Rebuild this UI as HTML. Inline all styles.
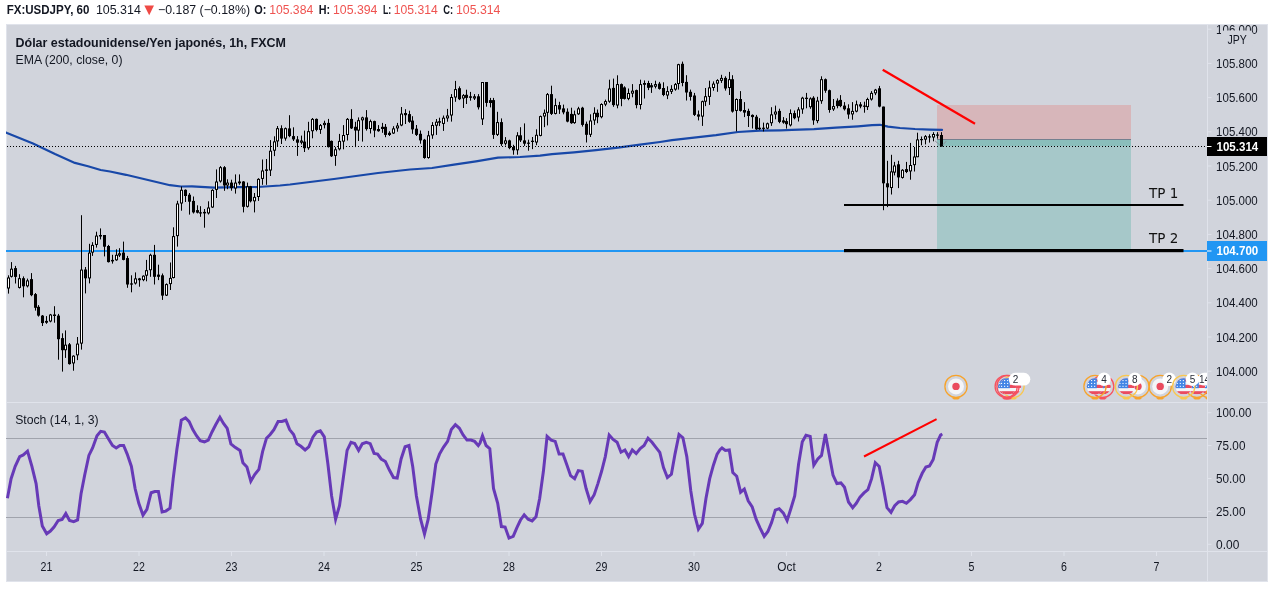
<!DOCTYPE html>
<html lang="es"><head><meta charset="utf-8"><title>FX:USDJPY</title>
<style>html,body{margin:0;padding:0;background:#fff;width:1274px;height:590px;overflow:hidden}text{white-space:pre}</style>
</head><body>
<svg width="1274" height="590" viewBox="0 0 1274 590" style="position:absolute;left:0;top:0;display:block">
<defs><clipPath id="cm"><rect x="6" y="24" width="1201" height="378"/></clipPath><clipPath id="cs"><rect x="6" y="403" width="1201" height="148"/></clipPath><clipPath id="cax"><rect x="1207" y="24" width="61" height="558"/></clipPath></defs>
<rect x="0" y="0" width="1274" height="590" fill="#ffffff"/>
<rect x="6" y="24" width="1262" height="558" fill="#e0e3eb"/>
<rect x="7" y="25" width="1260" height="556" fill="#d1d4dc"/>
<g clip-path="url(#cm)">
<rect x="937" y="105" width="194" height="34.5" fill="#d7b6ba"/>
<rect x="937" y="139.5" width="194" height="7" fill="#8abebb"/>
<rect x="937" y="146.5" width="194" height="103.5" fill="#a6c8c9"/>
<rect x="937" y="139" width="194" height="1" fill="#74808f"/>
<rect x="6" y="250" width="1201" height="2" fill="#2196f3"/>
<polyline points="6.0,132.6 7.0,133.1 33.0,143.5 55.0,154.0 74.9,162.9 88.0,166.2 100.7,170.0 110.0,171.5 126.0,174.8 148.0,180.0 170.0,185.2 181.0,186.5 192.0,186.4 214.0,187.7 236.0,187.2 258.0,187.0 280.0,185.5 290.0,184.5 334.0,179.0 378.0,173.0 410.0,169.5 432.0,168.0 454.0,164.6 476.0,161.3 498.0,157.6 520.0,157.0 540.0,155.6 552.0,154.2 574.0,152.4 596.0,150.2 618.0,147.6 640.0,144.7 660.0,142.0 672.0,140.2 694.0,137.6 716.0,135.1 738.0,132.0 760.0,130.7 780.0,130.3 792.0,129.9 814.0,129.2 836.0,127.7 858.0,126.3 872.0,125.2 880.0,124.8 888.0,126.6 900.0,128.0 915.0,129.0 930.0,129.6 942.0,129.9" fill="none" stroke="#1848a8" stroke-width="2.2" stroke-linejoin="round" stroke-linecap="round"/>
<line x1="7" y1="146.5" x2="1207" y2="146.5" stroke="#000" stroke-width="1" stroke-dasharray="1 2" shape-rendering="crispEdges"/>
<rect x="8" y="275.3" width="1" height="18.3" fill="#000"/>
<rect x="7" y="277.5" width="3" height="11.0" fill="#000"/>
<rect x="8" y="278.5" width="1" height="9.0" fill="#fff"/>
<rect x="11" y="262.1" width="1" height="15.4" fill="#000"/>
<rect x="10" y="268.7" width="3" height="8.1" fill="#000"/>
<rect x="11" y="269.7" width="1" height="6.1" fill="#fff"/>
<rect x="15" y="265.9" width="1" height="17.6" fill="#000"/>
<rect x="14" y="268.1" width="3" height="8.8" fill="#000"/>
<rect x="19" y="274.2" width="1" height="14.3" fill="#000"/>
<rect x="18" y="278.2" width="3" height="9.7" fill="#000"/>
<rect x="19" y="279.2" width="1" height="7.7" fill="#fff"/>
<rect x="23" y="276.4" width="1" height="20.9" fill="#000"/>
<rect x="22" y="278.2" width="3" height="8.1" fill="#000"/>
<rect x="27" y="278.6" width="1" height="8.8" fill="#000"/>
<rect x="26" y="280.4" width="3" height="5.9" fill="#000"/>
<rect x="27" y="281.4" width="1" height="3.9" fill="#fff"/>
<rect x="31" y="273.1" width="1" height="23.1" fill="#000"/>
<rect x="30" y="279.1" width="3" height="16.1" fill="#000"/>
<rect x="35" y="293.0" width="1" height="17.6" fill="#000"/>
<rect x="34" y="294.1" width="3" height="13.7" fill="#000"/>
<rect x="38" y="305.1" width="1" height="11.5" fill="#000"/>
<rect x="37" y="306.8" width="3" height="8.8" fill="#000"/>
<rect x="42" y="315.0" width="1" height="11.0" fill="#000"/>
<rect x="41" y="315.6" width="3" height="7.5" fill="#000"/>
<rect x="46" y="316.1" width="1" height="7.7" fill="#000"/>
<rect x="45" y="320.9" width="3" height="1.8" fill="#000"/>
<rect x="50" y="313.9" width="1" height="8.4" fill="#000"/>
<rect x="49" y="314.5" width="3" height="7.0" fill="#000"/>
<rect x="50" y="315.5" width="1" height="5.0" fill="#fff"/>
<rect x="54" y="306.2" width="1" height="16.5" fill="#000"/>
<rect x="53" y="314.5" width="3" height="1.5" fill="#000"/>
<rect x="58" y="313.9" width="1" height="45.8" fill="#000"/>
<rect x="57" y="315.6" width="3" height="23.6" fill="#000"/>
<rect x="62" y="333.3" width="1" height="38.3" fill="#000"/>
<rect x="61" y="338.1" width="3" height="12.1" fill="#000"/>
<rect x="65" y="330.4" width="1" height="27.5" fill="#000"/>
<rect x="64" y="344.7" width="3" height="5.5" fill="#000"/>
<rect x="65" y="345.7" width="1" height="3.5" fill="#fff"/>
<rect x="69" y="343.0" width="1" height="21.6" fill="#000"/>
<rect x="68" y="344.3" width="3" height="19.8" fill="#000"/>
<rect x="73" y="355.3" width="1" height="15.4" fill="#000"/>
<rect x="72" y="355.7" width="3" height="7.7" fill="#000"/>
<rect x="73" y="356.7" width="1" height="5.7" fill="#fff"/>
<rect x="77" y="337.0" width="1" height="23.1" fill="#000"/>
<rect x="76" y="343.6" width="3" height="11.7" fill="#000"/>
<rect x="77" y="344.6" width="1" height="9.7" fill="#fff"/>
<rect x="81" y="215.2" width="1" height="134.4" fill="#000"/>
<rect x="80" y="269.6" width="3" height="74.0" fill="#000"/>
<rect x="81" y="270.6" width="1" height="72.0" fill="#fff"/>
<rect x="85" y="267.0" width="1" height="26.4" fill="#000"/>
<rect x="84" y="269.5" width="3" height="8.8" fill="#000"/>
<rect x="89" y="243.8" width="1" height="39.6" fill="#000"/>
<rect x="88" y="252.6" width="3" height="25.8" fill="#000"/>
<rect x="89" y="253.6" width="1" height="23.8" fill="#fff"/>
<rect x="92" y="242.2" width="1" height="13.7" fill="#000"/>
<rect x="91" y="244.9" width="3" height="7.7" fill="#000"/>
<rect x="92" y="245.9" width="1" height="5.7" fill="#fff"/>
<rect x="96" y="231.7" width="1" height="15.9" fill="#000"/>
<rect x="95" y="235.6" width="3" height="9.3" fill="#000"/>
<rect x="96" y="236.6" width="1" height="7.3" fill="#fff"/>
<rect x="100" y="228.4" width="1" height="11.0" fill="#000"/>
<rect x="99" y="235.0" width="3" height="1.5" fill="#000"/>
<rect x="104" y="235.0" width="1" height="21.4" fill="#000"/>
<rect x="103" y="235.0" width="3" height="11.7" fill="#000"/>
<rect x="108" y="244.9" width="1" height="17.6" fill="#000"/>
<rect x="107" y="246.0" width="3" height="16.1" fill="#000"/>
<rect x="112" y="254.8" width="1" height="8.8" fill="#000"/>
<rect x="111" y="259.9" width="3" height="1.5" fill="#000"/>
<rect x="116" y="249.3" width="1" height="11.5" fill="#000"/>
<rect x="115" y="254.8" width="3" height="5.5" fill="#000"/>
<rect x="116" y="255.8" width="1" height="3.5" fill="#fff"/>
<rect x="119" y="248.2" width="1" height="8.8" fill="#000"/>
<rect x="118" y="253.3" width="3" height="2.2" fill="#000"/>
<rect x="119" y="254.3" width="1" height="0.2" fill="#fff"/>
<rect x="123" y="241.6" width="1" height="18.7" fill="#000"/>
<rect x="122" y="252.6" width="3" height="7.3" fill="#000"/>
<rect x="127" y="255.9" width="1" height="31.9" fill="#000"/>
<rect x="126" y="258.1" width="3" height="26.4" fill="#000"/>
<rect x="131" y="275.3" width="1" height="17.0" fill="#000"/>
<rect x="130" y="283.4" width="3" height="1.2" fill="#000"/>
<rect x="135" y="272.4" width="1" height="12.1" fill="#000"/>
<rect x="134" y="278.4" width="3" height="5.1" fill="#000"/>
<rect x="135" y="279.4" width="1" height="3.1" fill="#fff"/>
<rect x="139" y="277.9" width="1" height="8.8" fill="#000"/>
<rect x="138" y="278.4" width="3" height="1.8" fill="#000"/>
<rect x="143" y="275.3" width="1" height="5.9" fill="#000"/>
<rect x="142" y="275.7" width="3" height="4.4" fill="#000"/>
<rect x="143" y="276.7" width="1" height="2.4" fill="#fff"/>
<rect x="146" y="259.9" width="1" height="21.4" fill="#000"/>
<rect x="145" y="270.2" width="3" height="5.5" fill="#000"/>
<rect x="146" y="271.2" width="1" height="3.5" fill="#fff"/>
<rect x="150" y="253.7" width="1" height="23.1" fill="#000"/>
<rect x="149" y="254.8" width="3" height="15.4" fill="#000"/>
<rect x="150" y="255.8" width="1" height="13.4" fill="#fff"/>
<rect x="154" y="244.9" width="1" height="39.6" fill="#000"/>
<rect x="153" y="254.8" width="3" height="22.0" fill="#000"/>
<rect x="158" y="264.7" width="1" height="15.4" fill="#000"/>
<rect x="157" y="274.6" width="3" height="2.2" fill="#000"/>
<rect x="162" y="273.5" width="1" height="26.4" fill="#000"/>
<rect x="161" y="275.3" width="3" height="20.3" fill="#000"/>
<rect x="166" y="283.4" width="1" height="12.6" fill="#000"/>
<rect x="165" y="284.1" width="3" height="11.5" fill="#000"/>
<rect x="166" y="285.1" width="1" height="9.5" fill="#fff"/>
<rect x="170" y="262.5" width="1" height="27.5" fill="#000"/>
<rect x="169" y="277.9" width="3" height="6.2" fill="#000"/>
<rect x="170" y="278.9" width="1" height="4.2" fill="#fff"/>
<rect x="173" y="227.3" width="1" height="51.1" fill="#000"/>
<rect x="172" y="236.1" width="3" height="41.9" fill="#000"/>
<rect x="173" y="237.1" width="1" height="39.9" fill="#fff"/>
<rect x="177" y="200.8" width="1" height="45.8" fill="#000"/>
<rect x="176" y="203.5" width="3" height="32.6" fill="#000"/>
<rect x="177" y="204.5" width="1" height="30.6" fill="#fff"/>
<rect x="181" y="186.5" width="1" height="24.2" fill="#000"/>
<rect x="180" y="189.8" width="3" height="13.7" fill="#000"/>
<rect x="181" y="190.8" width="1" height="11.7" fill="#fff"/>
<rect x="185" y="189.4" width="1" height="12.6" fill="#000"/>
<rect x="184" y="189.8" width="3" height="6.2" fill="#000"/>
<rect x="189" y="193.0" width="1" height="21.6" fill="#000"/>
<rect x="188" y="194.7" width="3" height="7.0" fill="#000"/>
<rect x="193" y="196.5" width="1" height="17.0" fill="#000"/>
<rect x="192" y="200.9" width="3" height="11.5" fill="#000"/>
<rect x="197" y="205.3" width="1" height="8.1" fill="#000"/>
<rect x="196" y="210.1" width="3" height="2.6" fill="#000"/>
<rect x="200" y="206.2" width="1" height="10.6" fill="#000"/>
<rect x="199" y="212.3" width="3" height="1.2" fill="#000"/>
<rect x="204" y="209.0" width="1" height="18.7" fill="#000"/>
<rect x="203" y="211.9" width="3" height="1.5" fill="#000"/>
<rect x="208" y="201.3" width="1" height="13.2" fill="#000"/>
<rect x="207" y="207.5" width="3" height="5.9" fill="#000"/>
<rect x="208" y="208.5" width="1" height="3.9" fill="#fff"/>
<rect x="212" y="189.2" width="1" height="18.7" fill="#000"/>
<rect x="211" y="189.9" width="3" height="17.6" fill="#000"/>
<rect x="212" y="190.9" width="1" height="15.6" fill="#fff"/>
<rect x="216" y="169.4" width="1" height="28.6" fill="#000"/>
<rect x="215" y="181.5" width="3" height="8.4" fill="#000"/>
<rect x="216" y="182.5" width="1" height="6.4" fill="#fff"/>
<rect x="220" y="166.1" width="1" height="16.5" fill="#000"/>
<rect x="219" y="167.2" width="3" height="14.3" fill="#000"/>
<rect x="220" y="168.2" width="1" height="12.3" fill="#fff"/>
<rect x="224" y="166.1" width="1" height="24.7" fill="#000"/>
<rect x="223" y="167.2" width="3" height="18.3" fill="#000"/>
<rect x="227" y="179.3" width="1" height="9.9" fill="#000"/>
<rect x="226" y="182.6" width="3" height="2.9" fill="#000"/>
<rect x="227" y="183.6" width="1" height="0.9" fill="#fff"/>
<rect x="231" y="179.7" width="1" height="11.0" fill="#000"/>
<rect x="230" y="182.6" width="3" height="5.5" fill="#000"/>
<rect x="235" y="174.4" width="1" height="19.2" fill="#000"/>
<rect x="234" y="182.6" width="3" height="5.9" fill="#000"/>
<rect x="235" y="183.6" width="1" height="3.9" fill="#fff"/>
<rect x="239" y="174.4" width="1" height="10.4" fill="#000"/>
<rect x="238" y="181.5" width="3" height="1.8" fill="#000"/>
<rect x="243" y="181.1" width="1" height="31.3" fill="#000"/>
<rect x="242" y="181.5" width="3" height="25.3" fill="#000"/>
<rect x="247" y="182.6" width="1" height="24.9" fill="#000"/>
<rect x="246" y="186.3" width="3" height="20.5" fill="#000"/>
<rect x="247" y="187.3" width="1" height="18.5" fill="#fff"/>
<rect x="250" y="185.9" width="1" height="16.5" fill="#000"/>
<rect x="249" y="186.3" width="3" height="15.0" fill="#000"/>
<rect x="254" y="193.0" width="1" height="19.4" fill="#000"/>
<rect x="253" y="196.9" width="3" height="4.4" fill="#000"/>
<rect x="254" y="197.9" width="1" height="2.4" fill="#fff"/>
<rect x="258" y="178.2" width="1" height="22.7" fill="#000"/>
<rect x="257" y="178.9" width="3" height="18.1" fill="#000"/>
<rect x="258" y="179.9" width="1" height="16.1" fill="#fff"/>
<rect x="262" y="159.5" width="1" height="25.3" fill="#000"/>
<rect x="261" y="170.5" width="3" height="8.4" fill="#000"/>
<rect x="262" y="171.5" width="1" height="6.4" fill="#fff"/>
<rect x="266" y="159.0" width="1" height="25.8" fill="#000"/>
<rect x="265" y="169.4" width="3" height="1.5" fill="#000"/>
<rect x="270" y="140.1" width="1" height="35.9" fill="#000"/>
<rect x="269" y="150.7" width="3" height="19.8" fill="#000"/>
<rect x="270" y="151.7" width="1" height="17.8" fill="#fff"/>
<rect x="274" y="136.3" width="1" height="19.8" fill="#000"/>
<rect x="273" y="141.4" width="3" height="9.3" fill="#000"/>
<rect x="274" y="142.4" width="1" height="7.3" fill="#fff"/>
<rect x="277" y="126.0" width="1" height="20.3" fill="#000"/>
<rect x="276" y="128.2" width="3" height="13.2" fill="#000"/>
<rect x="277" y="129.2" width="1" height="11.2" fill="#fff"/>
<rect x="281" y="125.3" width="1" height="18.7" fill="#000"/>
<rect x="280" y="128.2" width="3" height="10.4" fill="#000"/>
<rect x="285" y="127.5" width="1" height="13.2" fill="#000"/>
<rect x="284" y="128.2" width="3" height="10.4" fill="#000"/>
<rect x="285" y="129.2" width="1" height="8.4" fill="#fff"/>
<rect x="289" y="115.2" width="1" height="22.0" fill="#000"/>
<rect x="288" y="128.4" width="3" height="7.7" fill="#000"/>
<rect x="293" y="127.3" width="1" height="13.7" fill="#000"/>
<rect x="292" y="136.1" width="3" height="3.3" fill="#000"/>
<rect x="297" y="136.1" width="1" height="19.8" fill="#000"/>
<rect x="296" y="139.4" width="3" height="3.3" fill="#000"/>
<rect x="301" y="135.6" width="1" height="8.8" fill="#000"/>
<rect x="300" y="140.5" width="3" height="2.2" fill="#000"/>
<rect x="301" y="141.5" width="1" height="0.2" fill="#fff"/>
<rect x="304" y="130.6" width="1" height="21.4" fill="#000"/>
<rect x="303" y="141.6" width="3" height="6.6" fill="#000"/>
<rect x="308" y="121.8" width="1" height="28.0" fill="#000"/>
<rect x="307" y="131.2" width="3" height="17.0" fill="#000"/>
<rect x="308" y="132.2" width="1" height="15.0" fill="#fff"/>
<rect x="312" y="118.0" width="1" height="20.3" fill="#000"/>
<rect x="311" y="118.9" width="3" height="12.3" fill="#000"/>
<rect x="312" y="119.9" width="1" height="10.3" fill="#fff"/>
<rect x="316" y="118.5" width="1" height="12.8" fill="#000"/>
<rect x="315" y="118.9" width="3" height="11.0" fill="#000"/>
<rect x="320" y="124.0" width="1" height="9.9" fill="#000"/>
<rect x="319" y="125.1" width="3" height="4.8" fill="#000"/>
<rect x="320" y="126.1" width="1" height="2.8" fill="#fff"/>
<rect x="324" y="120.7" width="1" height="7.7" fill="#000"/>
<rect x="323" y="122.9" width="3" height="2.2" fill="#000"/>
<rect x="324" y="123.9" width="1" height="0.2" fill="#fff"/>
<rect x="328" y="118.9" width="1" height="28.6" fill="#000"/>
<rect x="327" y="122.9" width="3" height="24.2" fill="#000"/>
<rect x="331" y="140.5" width="1" height="16.5" fill="#000"/>
<rect x="330" y="140.9" width="3" height="15.4" fill="#000"/>
<rect x="335" y="147.1" width="1" height="18.7" fill="#000"/>
<rect x="334" y="149.3" width="3" height="6.6" fill="#000"/>
<rect x="335" y="150.3" width="1" height="4.6" fill="#fff"/>
<rect x="339" y="133.9" width="1" height="16.5" fill="#000"/>
<rect x="338" y="140.9" width="3" height="8.4" fill="#000"/>
<rect x="339" y="141.9" width="1" height="6.4" fill="#fff"/>
<rect x="343" y="125.1" width="1" height="24.2" fill="#000"/>
<rect x="342" y="135.0" width="3" height="6.6" fill="#000"/>
<rect x="343" y="136.0" width="1" height="4.6" fill="#fff"/>
<rect x="347" y="118.0" width="1" height="22.5" fill="#000"/>
<rect x="346" y="118.9" width="3" height="16.1" fill="#000"/>
<rect x="347" y="119.9" width="1" height="14.1" fill="#fff"/>
<rect x="351" y="109.2" width="1" height="19.8" fill="#000"/>
<rect x="350" y="118.9" width="3" height="9.5" fill="#000"/>
<rect x="355" y="121.8" width="1" height="25.3" fill="#000"/>
<rect x="354" y="126.8" width="3" height="3.7" fill="#000"/>
<rect x="358" y="117.4" width="1" height="23.6" fill="#000"/>
<rect x="357" y="120.2" width="3" height="10.4" fill="#000"/>
<rect x="358" y="121.2" width="1" height="8.4" fill="#fff"/>
<rect x="362" y="116.7" width="1" height="24.9" fill="#000"/>
<rect x="361" y="117.4" width="3" height="2.9" fill="#000"/>
<rect x="362" y="118.4" width="1" height="0.9" fill="#fff"/>
<rect x="366" y="110.1" width="1" height="20.5" fill="#000"/>
<rect x="365" y="117.4" width="3" height="11.7" fill="#000"/>
<rect x="370" y="119.6" width="1" height="13.9" fill="#000"/>
<rect x="369" y="121.1" width="3" height="7.9" fill="#000"/>
<rect x="370" y="122.1" width="1" height="5.9" fill="#fff"/>
<rect x="374" y="120.7" width="1" height="16.5" fill="#000"/>
<rect x="373" y="121.1" width="3" height="9.5" fill="#000"/>
<rect x="378" y="125.1" width="1" height="6.6" fill="#000"/>
<rect x="377" y="129.0" width="3" height="2.2" fill="#000"/>
<rect x="382" y="122.9" width="1" height="9.9" fill="#000"/>
<rect x="381" y="126.8" width="3" height="2.2" fill="#000"/>
<rect x="385" y="124.0" width="1" height="13.2" fill="#000"/>
<rect x="384" y="126.8" width="3" height="8.1" fill="#000"/>
<rect x="389" y="131.2" width="1" height="4.8" fill="#000"/>
<rect x="388" y="132.8" width="3" height="2.2" fill="#000"/>
<rect x="393" y="126.2" width="1" height="7.7" fill="#000"/>
<rect x="392" y="128.4" width="3" height="5.1" fill="#000"/>
<rect x="393" y="129.4" width="1" height="3.1" fill="#fff"/>
<rect x="397" y="122.9" width="1" height="8.8" fill="#000"/>
<rect x="396" y="125.5" width="3" height="2.9" fill="#000"/>
<rect x="397" y="126.5" width="1" height="0.9" fill="#fff"/>
<rect x="401" y="107.0" width="1" height="19.2" fill="#000"/>
<rect x="400" y="113.6" width="3" height="11.9" fill="#000"/>
<rect x="401" y="114.6" width="1" height="9.9" fill="#fff"/>
<rect x="405" y="109.2" width="1" height="14.8" fill="#000"/>
<rect x="404" y="113.0" width="3" height="2.2" fill="#000"/>
<rect x="409" y="110.7" width="1" height="12.1" fill="#000"/>
<rect x="408" y="114.1" width="3" height="7.7" fill="#000"/>
<rect x="412" y="116.2" width="1" height="17.6" fill="#000"/>
<rect x="411" y="120.6" width="3" height="8.8" fill="#000"/>
<rect x="416" y="125.0" width="1" height="11.0" fill="#000"/>
<rect x="415" y="128.7" width="3" height="6.2" fill="#000"/>
<rect x="420" y="130.5" width="1" height="13.2" fill="#000"/>
<rect x="419" y="133.8" width="3" height="6.6" fill="#000"/>
<rect x="424" y="138.9" width="1" height="19.8" fill="#000"/>
<rect x="423" y="139.7" width="3" height="18.3" fill="#000"/>
<rect x="428" y="130.9" width="1" height="27.8" fill="#000"/>
<rect x="427" y="135.3" width="3" height="22.7" fill="#000"/>
<rect x="428" y="136.3" width="1" height="20.7" fill="#fff"/>
<rect x="432" y="122.1" width="1" height="16.7" fill="#000"/>
<rect x="431" y="125.0" width="3" height="10.4" fill="#000"/>
<rect x="432" y="126.0" width="1" height="8.4" fill="#fff"/>
<rect x="436" y="119.0" width="1" height="15.9" fill="#000"/>
<rect x="435" y="121.7" width="3" height="4.0" fill="#000"/>
<rect x="436" y="122.7" width="1" height="2.0" fill="#fff"/>
<rect x="439" y="117.7" width="1" height="8.4" fill="#000"/>
<rect x="438" y="121.2" width="3" height="1.5" fill="#000"/>
<rect x="443" y="115.5" width="1" height="15.4" fill="#000"/>
<rect x="442" y="117.7" width="3" height="6.2" fill="#000"/>
<rect x="443" y="118.7" width="1" height="4.2" fill="#fff"/>
<rect x="447" y="108.9" width="1" height="12.8" fill="#000"/>
<rect x="446" y="115.5" width="3" height="2.9" fill="#000"/>
<rect x="447" y="116.5" width="1" height="0.9" fill="#fff"/>
<rect x="451" y="94.1" width="1" height="27.5" fill="#000"/>
<rect x="450" y="97.0" width="3" height="18.5" fill="#000"/>
<rect x="451" y="98.0" width="1" height="16.5" fill="#fff"/>
<rect x="455" y="80.9" width="1" height="20.9" fill="#000"/>
<rect x="454" y="89.1" width="3" height="8.4" fill="#000"/>
<rect x="455" y="90.1" width="1" height="6.4" fill="#fff"/>
<rect x="459" y="86.4" width="1" height="13.7" fill="#000"/>
<rect x="458" y="88.2" width="3" height="11.0" fill="#000"/>
<rect x="463" y="94.1" width="1" height="13.9" fill="#000"/>
<rect x="462" y="95.2" width="3" height="3.3" fill="#000"/>
<rect x="463" y="96.2" width="1" height="1.3" fill="#fff"/>
<rect x="466" y="89.7" width="1" height="14.3" fill="#000"/>
<rect x="465" y="94.8" width="3" height="3.1" fill="#000"/>
<rect x="470" y="91.9" width="1" height="8.8" fill="#000"/>
<rect x="469" y="96.3" width="3" height="1.5" fill="#000"/>
<rect x="474" y="94.1" width="1" height="5.9" fill="#000"/>
<rect x="473" y="96.3" width="3" height="2.2" fill="#000"/>
<rect x="474" y="97.3" width="1" height="0.2" fill="#fff"/>
<rect x="478" y="94.1" width="1" height="15.4" fill="#000"/>
<rect x="477" y="96.3" width="3" height="11.0" fill="#000"/>
<rect x="482" y="82.0" width="1" height="43.0" fill="#000"/>
<rect x="481" y="82.0" width="3" height="37.4" fill="#000"/>
<rect x="482" y="83.0" width="1" height="35.4" fill="#fff"/>
<rect x="486" y="82.0" width="1" height="24.7" fill="#000"/>
<rect x="485" y="82.0" width="3" height="20.9" fill="#000"/>
<rect x="490" y="97.9" width="1" height="9.5" fill="#000"/>
<rect x="489" y="100.1" width="3" height="2.9" fill="#000"/>
<rect x="493" y="97.9" width="1" height="41.0" fill="#000"/>
<rect x="492" y="100.1" width="3" height="34.8" fill="#000"/>
<rect x="497" y="111.8" width="1" height="24.2" fill="#000"/>
<rect x="496" y="122.1" width="3" height="12.8" fill="#000"/>
<rect x="497" y="123.1" width="1" height="10.8" fill="#fff"/>
<rect x="501" y="118.4" width="1" height="27.5" fill="#000"/>
<rect x="500" y="122.1" width="3" height="22.0" fill="#000"/>
<rect x="505" y="137.1" width="1" height="8.4" fill="#000"/>
<rect x="504" y="140.4" width="3" height="3.3" fill="#000"/>
<rect x="505" y="141.4" width="1" height="1.3" fill="#fff"/>
<rect x="509" y="139.7" width="1" height="9.5" fill="#000"/>
<rect x="508" y="140.4" width="3" height="7.7" fill="#000"/>
<rect x="513" y="144.8" width="1" height="9.9" fill="#000"/>
<rect x="512" y="147.0" width="3" height="3.3" fill="#000"/>
<rect x="517" y="132.2" width="1" height="22.5" fill="#000"/>
<rect x="516" y="135.3" width="3" height="15.0" fill="#000"/>
<rect x="517" y="136.3" width="1" height="13.0" fill="#fff"/>
<rect x="520" y="127.2" width="1" height="14.8" fill="#000"/>
<rect x="519" y="135.3" width="3" height="5.1" fill="#000"/>
<rect x="524" y="123.4" width="1" height="22.5" fill="#000"/>
<rect x="523" y="140.4" width="3" height="3.3" fill="#000"/>
<rect x="528" y="139.7" width="1" height="11.0" fill="#000"/>
<rect x="527" y="142.6" width="3" height="1.2" fill="#000"/>
<rect x="532" y="137.0" width="1" height="12.1" fill="#000"/>
<rect x="531" y="140.7" width="3" height="1.3" fill="#000"/>
<rect x="536" y="129.3" width="1" height="15.9" fill="#000"/>
<rect x="535" y="134.8" width="3" height="7.7" fill="#000"/>
<rect x="536" y="135.8" width="1" height="5.7" fill="#fff"/>
<rect x="540" y="115.6" width="1" height="20.7" fill="#000"/>
<rect x="539" y="116.1" width="3" height="19.8" fill="#000"/>
<rect x="540" y="117.1" width="1" height="17.8" fill="#fff"/>
<rect x="544" y="109.5" width="1" height="17.6" fill="#000"/>
<rect x="543" y="112.8" width="3" height="3.7" fill="#000"/>
<rect x="544" y="113.8" width="1" height="1.7" fill="#fff"/>
<rect x="547" y="93.0" width="1" height="32.4" fill="#000"/>
<rect x="546" y="94.1" width="3" height="18.7" fill="#000"/>
<rect x="547" y="95.1" width="1" height="16.7" fill="#fff"/>
<rect x="551" y="85.7" width="1" height="29.3" fill="#000"/>
<rect x="550" y="94.1" width="3" height="19.8" fill="#000"/>
<rect x="555" y="98.5" width="1" height="15.9" fill="#000"/>
<rect x="554" y="105.1" width="3" height="8.8" fill="#000"/>
<rect x="555" y="106.1" width="1" height="6.8" fill="#fff"/>
<rect x="559" y="101.8" width="1" height="12.1" fill="#000"/>
<rect x="558" y="105.1" width="3" height="4.4" fill="#000"/>
<rect x="563" y="104.6" width="1" height="9.7" fill="#000"/>
<rect x="562" y="108.4" width="3" height="4.0" fill="#000"/>
<rect x="567" y="108.4" width="1" height="13.9" fill="#000"/>
<rect x="566" y="111.7" width="3" height="9.9" fill="#000"/>
<rect x="571" y="107.7" width="1" height="16.1" fill="#000"/>
<rect x="570" y="113.9" width="3" height="9.3" fill="#000"/>
<rect x="574" y="110.6" width="1" height="13.2" fill="#000"/>
<rect x="573" y="114.3" width="3" height="8.8" fill="#000"/>
<rect x="574" y="115.3" width="1" height="6.8" fill="#fff"/>
<rect x="578" y="106.8" width="1" height="8.1" fill="#000"/>
<rect x="577" y="108.4" width="3" height="5.9" fill="#000"/>
<rect x="578" y="109.4" width="1" height="3.9" fill="#fff"/>
<rect x="582" y="106.8" width="1" height="19.8" fill="#000"/>
<rect x="581" y="107.7" width="3" height="17.2" fill="#000"/>
<rect x="586" y="121.6" width="1" height="20.9" fill="#000"/>
<rect x="585" y="123.8" width="3" height="11.0" fill="#000"/>
<rect x="590" y="114.3" width="1" height="22.7" fill="#000"/>
<rect x="589" y="120.5" width="3" height="14.3" fill="#000"/>
<rect x="590" y="121.5" width="1" height="12.3" fill="#fff"/>
<rect x="594" y="107.3" width="1" height="17.6" fill="#000"/>
<rect x="593" y="112.8" width="3" height="7.7" fill="#000"/>
<rect x="594" y="113.8" width="1" height="5.7" fill="#fff"/>
<rect x="597" y="109.5" width="1" height="13.7" fill="#000"/>
<rect x="596" y="112.8" width="3" height="4.4" fill="#000"/>
<rect x="601" y="103.3" width="1" height="15.0" fill="#000"/>
<rect x="600" y="104.0" width="3" height="13.2" fill="#000"/>
<rect x="601" y="105.0" width="1" height="11.2" fill="#fff"/>
<rect x="605" y="99.6" width="1" height="6.6" fill="#000"/>
<rect x="604" y="101.1" width="3" height="3.5" fill="#000"/>
<rect x="605" y="102.1" width="1" height="1.5" fill="#fff"/>
<rect x="609" y="79.7" width="1" height="23.1" fill="#000"/>
<rect x="608" y="88.5" width="3" height="13.2" fill="#000"/>
<rect x="609" y="89.5" width="1" height="11.2" fill="#fff"/>
<rect x="613" y="78.6" width="1" height="28.2" fill="#000"/>
<rect x="612" y="87.9" width="3" height="17.2" fill="#000"/>
<rect x="617" y="75.3" width="1" height="33.0" fill="#000"/>
<rect x="616" y="84.1" width="3" height="21.4" fill="#000"/>
<rect x="617" y="85.1" width="1" height="19.4" fill="#fff"/>
<rect x="621" y="83.5" width="1" height="22.7" fill="#000"/>
<rect x="620" y="84.1" width="3" height="14.8" fill="#000"/>
<rect x="624" y="86.3" width="1" height="13.2" fill="#000"/>
<rect x="623" y="87.4" width="3" height="11.5" fill="#000"/>
<rect x="628" y="88.5" width="1" height="11.7" fill="#000"/>
<rect x="627" y="93.0" width="3" height="5.9" fill="#000"/>
<rect x="628" y="94.0" width="1" height="3.9" fill="#fff"/>
<rect x="632" y="84.1" width="1" height="13.2" fill="#000"/>
<rect x="631" y="90.7" width="3" height="2.9" fill="#000"/>
<rect x="632" y="91.7" width="1" height="0.9" fill="#fff"/>
<rect x="636" y="89.6" width="1" height="18.7" fill="#000"/>
<rect x="635" y="90.1" width="3" height="15.0" fill="#000"/>
<rect x="640" y="79.7" width="1" height="29.7" fill="#000"/>
<rect x="639" y="84.1" width="3" height="20.9" fill="#000"/>
<rect x="640" y="85.1" width="1" height="18.9" fill="#fff"/>
<rect x="644" y="80.4" width="1" height="18.1" fill="#000"/>
<rect x="643" y="83.0" width="3" height="1.8" fill="#000"/>
<rect x="648" y="80.8" width="1" height="9.3" fill="#000"/>
<rect x="647" y="83.0" width="3" height="4.8" fill="#000"/>
<rect x="651" y="83.0" width="1" height="9.9" fill="#000"/>
<rect x="650" y="85.2" width="3" height="2.2" fill="#000"/>
<rect x="655" y="80.7" width="1" height="7.7" fill="#000"/>
<rect x="654" y="84.1" width="3" height="2.6" fill="#000"/>
<rect x="655" y="85.1" width="1" height="0.6" fill="#fff"/>
<rect x="659" y="81.9" width="1" height="7.7" fill="#000"/>
<rect x="658" y="83.6" width="3" height="5.3" fill="#000"/>
<rect x="663" y="82.3" width="1" height="13.9" fill="#000"/>
<rect x="662" y="88.0" width="3" height="7.0" fill="#000"/>
<rect x="667" y="86.3" width="1" height="12.8" fill="#000"/>
<rect x="666" y="91.1" width="3" height="4.4" fill="#000"/>
<rect x="667" y="92.1" width="1" height="2.4" fill="#fff"/>
<rect x="671" y="85.2" width="1" height="8.8" fill="#000"/>
<rect x="670" y="88.9" width="3" height="2.9" fill="#000"/>
<rect x="671" y="89.9" width="1" height="0.9" fill="#fff"/>
<rect x="675" y="83.0" width="1" height="7.7" fill="#000"/>
<rect x="674" y="84.1" width="3" height="5.5" fill="#000"/>
<rect x="675" y="85.1" width="1" height="3.5" fill="#fff"/>
<rect x="678" y="63.8" width="1" height="25.8" fill="#000"/>
<rect x="677" y="64.2" width="3" height="19.8" fill="#000"/>
<rect x="678" y="65.2" width="1" height="17.8" fill="#fff"/>
<rect x="682" y="61.6" width="1" height="24.7" fill="#000"/>
<rect x="681" y="63.8" width="3" height="19.2" fill="#000"/>
<rect x="686" y="75.2" width="1" height="25.3" fill="#000"/>
<rect x="685" y="81.9" width="3" height="10.6" fill="#000"/>
<rect x="690" y="89.6" width="1" height="11.0" fill="#000"/>
<rect x="689" y="91.8" width="3" height="5.1" fill="#000"/>
<rect x="694" y="92.9" width="1" height="23.1" fill="#000"/>
<rect x="693" y="95.5" width="3" height="19.4" fill="#000"/>
<rect x="698" y="110.5" width="1" height="9.9" fill="#000"/>
<rect x="697" y="114.4" width="3" height="2.2" fill="#000"/>
<rect x="702" y="100.6" width="1" height="25.3" fill="#000"/>
<rect x="701" y="101.2" width="3" height="15.4" fill="#000"/>
<rect x="702" y="102.2" width="1" height="13.4" fill="#fff"/>
<rect x="705" y="88.0" width="1" height="18.1" fill="#000"/>
<rect x="704" y="96.2" width="3" height="5.5" fill="#000"/>
<rect x="705" y="97.2" width="1" height="3.5" fill="#fff"/>
<rect x="709" y="80.7" width="1" height="24.2" fill="#000"/>
<rect x="708" y="87.4" width="3" height="9.5" fill="#000"/>
<rect x="709" y="88.4" width="1" height="7.5" fill="#fff"/>
<rect x="713" y="81.4" width="1" height="9.3" fill="#000"/>
<rect x="712" y="83.6" width="3" height="4.4" fill="#000"/>
<rect x="713" y="84.6" width="1" height="2.4" fill="#fff"/>
<rect x="717" y="79.2" width="1" height="12.6" fill="#000"/>
<rect x="716" y="80.1" width="3" height="3.5" fill="#000"/>
<rect x="717" y="81.1" width="1" height="1.5" fill="#fff"/>
<rect x="721" y="74.8" width="1" height="8.1" fill="#000"/>
<rect x="720" y="77.9" width="3" height="2.9" fill="#000"/>
<rect x="721" y="78.9" width="1" height="0.9" fill="#fff"/>
<rect x="725" y="76.3" width="1" height="14.3" fill="#000"/>
<rect x="724" y="77.9" width="3" height="10.6" fill="#000"/>
<rect x="729" y="71.9" width="1" height="23.1" fill="#000"/>
<rect x="728" y="79.2" width="3" height="8.8" fill="#000"/>
<rect x="729" y="80.2" width="1" height="6.8" fill="#fff"/>
<rect x="732" y="75.2" width="1" height="37.4" fill="#000"/>
<rect x="731" y="79.2" width="3" height="32.4" fill="#000"/>
<rect x="736" y="98.4" width="1" height="33.0" fill="#000"/>
<rect x="735" y="99.0" width="3" height="11.9" fill="#000"/>
<rect x="736" y="100.0" width="1" height="9.9" fill="#fff"/>
<rect x="740" y="91.1" width="1" height="20.5" fill="#000"/>
<rect x="739" y="99.0" width="3" height="11.9" fill="#000"/>
<rect x="744" y="102.1" width="1" height="15.0" fill="#000"/>
<rect x="743" y="110.0" width="3" height="2.6" fill="#000"/>
<rect x="748" y="108.7" width="1" height="18.3" fill="#000"/>
<rect x="747" y="110.9" width="3" height="5.1" fill="#000"/>
<rect x="752" y="114.4" width="1" height="14.1" fill="#000"/>
<rect x="751" y="114.9" width="3" height="2.2" fill="#000"/>
<rect x="756" y="114.9" width="1" height="15.0" fill="#000"/>
<rect x="755" y="116.7" width="3" height="12.6" fill="#000"/>
<rect x="759" y="118.2" width="1" height="11.7" fill="#000"/>
<rect x="758" y="127.7" width="3" height="1.5" fill="#000"/>
<rect x="763" y="122.6" width="1" height="8.8" fill="#000"/>
<rect x="762" y="127.7" width="3" height="1.2" fill="#000"/>
<rect x="767" y="122.6" width="1" height="6.6" fill="#000"/>
<rect x="766" y="123.3" width="3" height="5.3" fill="#000"/>
<rect x="767" y="124.3" width="1" height="3.3" fill="#fff"/>
<rect x="771" y="107.2" width="1" height="18.7" fill="#000"/>
<rect x="770" y="114.4" width="3" height="8.8" fill="#000"/>
<rect x="771" y="115.4" width="1" height="6.8" fill="#fff"/>
<rect x="775" y="105.6" width="1" height="13.7" fill="#000"/>
<rect x="774" y="111.6" width="3" height="2.9" fill="#000"/>
<rect x="775" y="112.6" width="1" height="0.9" fill="#fff"/>
<rect x="779" y="108.7" width="1" height="14.5" fill="#000"/>
<rect x="778" y="110.9" width="3" height="11.0" fill="#000"/>
<rect x="783" y="117.1" width="1" height="6.6" fill="#000"/>
<rect x="782" y="120.4" width="3" height="2.2" fill="#000"/>
<rect x="786" y="118.2" width="1" height="10.4" fill="#000"/>
<rect x="785" y="121.1" width="3" height="3.1" fill="#000"/>
<rect x="790" y="109.4" width="1" height="17.0" fill="#000"/>
<rect x="789" y="113.1" width="3" height="12.3" fill="#000"/>
<rect x="790" y="114.1" width="1" height="10.3" fill="#fff"/>
<rect x="794" y="110.5" width="1" height="8.8" fill="#000"/>
<rect x="793" y="113.1" width="3" height="5.1" fill="#000"/>
<rect x="798" y="107.2" width="1" height="14.3" fill="#000"/>
<rect x="797" y="109.4" width="3" height="8.1" fill="#000"/>
<rect x="798" y="110.4" width="1" height="6.1" fill="#fff"/>
<rect x="802" y="96.8" width="1" height="17.0" fill="#000"/>
<rect x="801" y="97.7" width="3" height="11.7" fill="#000"/>
<rect x="802" y="98.7" width="1" height="9.7" fill="#fff"/>
<rect x="806" y="92.9" width="1" height="15.4" fill="#000"/>
<rect x="805" y="97.7" width="3" height="1.3" fill="#000"/>
<rect x="810" y="97.3" width="1" height="11.5" fill="#000"/>
<rect x="809" y="98.4" width="3" height="8.8" fill="#000"/>
<rect x="810" y="99.4" width="1" height="6.8" fill="#fff"/>
<rect x="813" y="96.2" width="1" height="28.6" fill="#000"/>
<rect x="812" y="97.7" width="3" height="22.7" fill="#000"/>
<rect x="817" y="96.8" width="1" height="26.4" fill="#000"/>
<rect x="816" y="100.6" width="3" height="20.5" fill="#000"/>
<rect x="817" y="101.6" width="1" height="18.5" fill="#fff"/>
<rect x="821" y="76.3" width="1" height="27.5" fill="#000"/>
<rect x="820" y="79.2" width="3" height="22.0" fill="#000"/>
<rect x="821" y="80.2" width="1" height="20.0" fill="#fff"/>
<rect x="825" y="78.5" width="1" height="14.3" fill="#000"/>
<rect x="824" y="79.2" width="3" height="11.5" fill="#000"/>
<rect x="829" y="89.6" width="1" height="23.1" fill="#000"/>
<rect x="828" y="90.2" width="3" height="19.8" fill="#000"/>
<rect x="833" y="99.0" width="1" height="11.9" fill="#000"/>
<rect x="832" y="106.1" width="3" height="3.3" fill="#000"/>
<rect x="833" y="107.1" width="1" height="1.3" fill="#fff"/>
<rect x="837" y="98.4" width="1" height="9.9" fill="#000"/>
<rect x="836" y="100.6" width="3" height="5.5" fill="#000"/>
<rect x="840" y="95.1" width="1" height="12.1" fill="#000"/>
<rect x="839" y="99.9" width="3" height="6.2" fill="#000"/>
<rect x="844" y="102.1" width="1" height="8.4" fill="#000"/>
<rect x="843" y="105.6" width="3" height="3.7" fill="#000"/>
<rect x="848" y="104.3" width="1" height="14.5" fill="#000"/>
<rect x="847" y="108.3" width="3" height="6.2" fill="#000"/>
<rect x="852" y="102.1" width="1" height="17.6" fill="#000"/>
<rect x="851" y="110.9" width="3" height="3.5" fill="#000"/>
<rect x="852" y="111.9" width="1" height="1.5" fill="#fff"/>
<rect x="856" y="100.6" width="1" height="11.7" fill="#000"/>
<rect x="855" y="104.3" width="3" height="7.3" fill="#000"/>
<rect x="856" y="105.3" width="1" height="5.3" fill="#fff"/>
<rect x="860" y="102.1" width="1" height="6.2" fill="#000"/>
<rect x="859" y="104.3" width="3" height="2.2" fill="#000"/>
<rect x="864" y="101.7" width="1" height="11.0" fill="#000"/>
<rect x="863" y="105.6" width="3" height="1.2" fill="#000"/>
<rect x="867" y="97.7" width="1" height="12.3" fill="#000"/>
<rect x="866" y="99.0" width="3" height="8.1" fill="#000"/>
<rect x="867" y="100.0" width="1" height="6.1" fill="#fff"/>
<rect x="871" y="91.1" width="1" height="9.5" fill="#000"/>
<rect x="870" y="92.9" width="3" height="6.6" fill="#000"/>
<rect x="871" y="93.9" width="1" height="4.6" fill="#fff"/>
<rect x="875" y="88.9" width="1" height="6.2" fill="#000"/>
<rect x="874" y="89.6" width="3" height="3.7" fill="#000"/>
<rect x="875" y="90.6" width="1" height="1.7" fill="#fff"/>
<rect x="879" y="85.9" width="1" height="21.4" fill="#000"/>
<rect x="878" y="88.3" width="3" height="18.3" fill="#000"/>
<rect x="883" y="106.6" width="1" height="103.6" fill="#000"/>
<rect x="882" y="106.6" width="3" height="76.7" fill="#000"/>
<rect x="887" y="160.8" width="1" height="46.3" fill="#000"/>
<rect x="886" y="183.3" width="3" height="4.0" fill="#000"/>
<rect x="891" y="154.8" width="1" height="39.7" fill="#000"/>
<rect x="890" y="171.4" width="3" height="16.6" fill="#000"/>
<rect x="891" y="172.4" width="1" height="14.6" fill="#fff"/>
<rect x="894" y="161.9" width="1" height="13.5" fill="#000"/>
<rect x="893" y="165.5" width="3" height="7.1" fill="#000"/>
<rect x="894" y="166.5" width="1" height="5.1" fill="#fff"/>
<rect x="898" y="160.8" width="1" height="27.3" fill="#000"/>
<rect x="897" y="164.3" width="3" height="13.1" fill="#000"/>
<rect x="902" y="169.1" width="1" height="9.5" fill="#000"/>
<rect x="901" y="169.8" width="3" height="8.1" fill="#000"/>
<rect x="902" y="170.8" width="1" height="6.1" fill="#fff"/>
<rect x="906" y="161.9" width="1" height="11.2" fill="#000"/>
<rect x="905" y="169.1" width="3" height="2.9" fill="#000"/>
<rect x="910" y="142.9" width="1" height="36.8" fill="#000"/>
<rect x="909" y="165.0" width="3" height="6.4" fill="#000"/>
<rect x="910" y="166.0" width="1" height="4.4" fill="#fff"/>
<rect x="914" y="147.0" width="1" height="24.5" fill="#000"/>
<rect x="913" y="156.5" width="3" height="8.6" fill="#000"/>
<rect x="914" y="157.5" width="1" height="6.6" fill="#fff"/>
<rect x="917" y="132.7" width="1" height="24.5" fill="#000"/>
<rect x="916" y="139.4" width="3" height="17.8" fill="#000"/>
<rect x="917" y="140.4" width="1" height="15.8" fill="#fff"/>
<rect x="921" y="136.5" width="1" height="8.8" fill="#000"/>
<rect x="920" y="139.0" width="3" height="1.2" fill="#000"/>
<rect x="925" y="135.1" width="1" height="9.3" fill="#000"/>
<rect x="924" y="136.2" width="3" height="3.4" fill="#000"/>
<rect x="925" y="137.2" width="1" height="1.4" fill="#fff"/>
<rect x="929" y="134.3" width="1" height="8.3" fill="#000"/>
<rect x="928" y="136.3" width="3" height="1.2" fill="#000"/>
<rect x="933" y="132.2" width="1" height="9.1" fill="#000"/>
<rect x="932" y="134.0" width="3" height="3.5" fill="#000"/>
<rect x="933" y="135.0" width="1" height="1.5" fill="#fff"/>
<rect x="937" y="132.2" width="1" height="6.4" fill="#000"/>
<rect x="936" y="134.5" width="3" height="1.2" fill="#000"/>
<rect x="941" y="132.2" width="1" height="14.3" fill="#000"/>
<rect x="940" y="135.0" width="3" height="11.5" fill="#000"/>
<path d="M935.2,141 L940,145.2 M943,144.8 L946.2,141.2" stroke="#8a8f9a" stroke-width="1" fill="none"/>
<rect x="844" y="204" width="339.5" height="2" fill="#000"/>
<rect x="844" y="249" width="339.5" height="3.2" fill="#000"/>
<text x="1149" y="197.8" font-family="'DejaVu Sans', Verdana, sans-serif" font-size="13.5" fill="#111">TP 1</text>
<text x="1149" y="242.8" font-family="'DejaVu Sans', Verdana, sans-serif" font-size="13.5" fill="#111">TP 2</text>
<line x1="882.7" y1="69.8" x2="975" y2="123.7" stroke="#ff0000" stroke-width="2.2" stroke-linecap="butt"/>
<path d="M951.4,397.5 L953.8,399.59999999999997 L958.2,399.59999999999997 L960.6,397.5 Z" fill="#f7a32b"/><circle cx="956" cy="386.4" r="11.1" fill="none" stroke="#f7a32b" stroke-width="1.3"/><circle cx="956" cy="386.4" r="8" fill="#f4f5f8"/><circle cx="956" cy="386.4" r="3.7" fill="#ea4b5f"/>
<path d="M1008.4,397.5 L1010.8,399.59999999999997 L1015.2,399.59999999999997 L1017.6,397.5 Z" fill="#f9c74f"/><circle cx="1013" cy="386.4" r="11.1" fill="none" stroke="#f9c74f" stroke-width="1.3"/><clipPath id="u10130"><circle cx="1013" cy="386.4" r="8.1"/></clipPath><g clip-path="url(#u10130)"><rect x="1004" y="377.4" width="18" height="18" fill="#f4f5f8"/><rect x="1004" y="378.4" width="18" height="3.2" fill="#ea4b5f"/><rect x="1004" y="384.8" width="18" height="3.2" fill="#ea4b5f"/><rect x="1004" y="391.2" width="18" height="3.2" fill="#ea4b5f"/><rect x="1004" y="377.4" width="10.8" height="10.8" fill="#4285e6"/><rect x="1006.0" y="380.0" width="1.1" height="1.1" fill="#fff" transform="translate(0.00,0.00)"/><rect x="1006.0" y="380.0" width="1.1" height="1.1" fill="#fff" transform="translate(0.00,2.90)"/><rect x="1006.0" y="380.0" width="1.1" height="1.1" fill="#fff" transform="translate(0.00,5.80)"/><rect x="1006.0" y="380.0" width="1.1" height="1.1" fill="#fff" transform="translate(3.05,0.00)"/><rect x="1006.0" y="380.0" width="1.1" height="1.1" fill="#fff" transform="translate(3.05,2.90)"/><rect x="1006.0" y="380.0" width="1.1" height="1.1" fill="#fff" transform="translate(3.05,5.80)"/><rect x="1006.0" y="380.0" width="1.1" height="1.1" fill="#fff" transform="translate(6.10,0.00)"/><rect x="1006.0" y="380.0" width="1.1" height="1.1" fill="#fff" transform="translate(6.10,2.90)"/><rect x="1006.0" y="380.0" width="1.1" height="1.1" fill="#fff" transform="translate(6.10,5.80)"/></g>
<path d="M1001.6,397.5 L1004.0,399.59999999999997 L1008.4000000000001,399.59999999999997 L1010.8000000000001,397.5 Z" fill="#f7525f"/><circle cx="1006.2" cy="386.4" r="11.1" fill="none" stroke="#f7525f" stroke-width="1.3"/><clipPath id="u10062"><circle cx="1006.2" cy="386.4" r="8.1"/></clipPath><g clip-path="url(#u10062)"><rect x="997.2" y="377.4" width="18" height="18" fill="#f4f5f8"/><rect x="997.2" y="378.4" width="18" height="3.2" fill="#ea4b5f"/><rect x="997.2" y="384.8" width="18" height="3.2" fill="#ea4b5f"/><rect x="997.2" y="391.2" width="18" height="3.2" fill="#ea4b5f"/><rect x="997.2" y="377.4" width="10.8" height="10.8" fill="#4285e6"/><rect x="999.2" y="380.0" width="1.1" height="1.1" fill="#fff" transform="translate(0.00,0.00)"/><rect x="999.2" y="380.0" width="1.1" height="1.1" fill="#fff" transform="translate(0.00,2.90)"/><rect x="999.2" y="380.0" width="1.1" height="1.1" fill="#fff" transform="translate(0.00,5.80)"/><rect x="999.2" y="380.0" width="1.1" height="1.1" fill="#fff" transform="translate(3.05,0.00)"/><rect x="999.2" y="380.0" width="1.1" height="1.1" fill="#fff" transform="translate(3.05,2.90)"/><rect x="999.2" y="380.0" width="1.1" height="1.1" fill="#fff" transform="translate(3.05,5.80)"/><rect x="999.2" y="380.0" width="1.1" height="1.1" fill="#fff" transform="translate(6.10,0.00)"/><rect x="999.2" y="380.0" width="1.1" height="1.1" fill="#fff" transform="translate(6.10,2.90)"/><rect x="999.2" y="380.0" width="1.1" height="1.1" fill="#fff" transform="translate(6.10,5.80)"/></g>
<path d="M1003.4,397.5 L1005.8,399.59999999999997 L1010.2,399.59999999999997 L1012.6,397.5 Z" fill="#f7525f"/><circle cx="1008" cy="386.4" r="11.1" fill="none" stroke="#f7525f" stroke-width="1.3"/><clipPath id="u10080"><circle cx="1008" cy="386.4" r="8.1"/></clipPath><g clip-path="url(#u10080)"><rect x="999" y="377.4" width="18" height="18" fill="#f4f5f8"/><rect x="999" y="378.4" width="18" height="3.2" fill="#ea4b5f"/><rect x="999" y="384.8" width="18" height="3.2" fill="#ea4b5f"/><rect x="999" y="391.2" width="18" height="3.2" fill="#ea4b5f"/><rect x="999" y="377.4" width="10.8" height="10.8" fill="#4285e6"/><rect x="1001.0" y="380.0" width="1.1" height="1.1" fill="#fff" transform="translate(0.00,0.00)"/><rect x="1001.0" y="380.0" width="1.1" height="1.1" fill="#fff" transform="translate(0.00,2.90)"/><rect x="1001.0" y="380.0" width="1.1" height="1.1" fill="#fff" transform="translate(0.00,5.80)"/><rect x="1001.0" y="380.0" width="1.1" height="1.1" fill="#fff" transform="translate(3.05,0.00)"/><rect x="1001.0" y="380.0" width="1.1" height="1.1" fill="#fff" transform="translate(3.05,2.90)"/><rect x="1001.0" y="380.0" width="1.1" height="1.1" fill="#fff" transform="translate(3.05,5.80)"/><rect x="1001.0" y="380.0" width="1.1" height="1.1" fill="#fff" transform="translate(6.10,0.00)"/><rect x="1001.0" y="380.0" width="1.1" height="1.1" fill="#fff" transform="translate(6.10,2.90)"/><rect x="1001.0" y="380.0" width="1.1" height="1.1" fill="#fff" transform="translate(6.10,5.80)"/></g>
<rect x="1008.8" y="372.8" width="21.5" height="12.8" rx="6.4" fill="#fff"/><text x="1015.5" y="382.9" text-anchor="middle" font-family='Liberation Sans' font-size="10" fill="#2a2e39">2</text>
<path d="M1098.1000000000001,397.5 L1100.5,399.59999999999997 L1104.9,399.59999999999997 L1107.3,397.5 Z" fill="#f7525f"/><circle cx="1102.7" cy="386.4" r="11.1" fill="none" stroke="#f7525f" stroke-width="1.3"/><clipPath id="u11027"><circle cx="1102.7" cy="386.4" r="8.1"/></clipPath><g clip-path="url(#u11027)"><rect x="1093.7" y="377.4" width="18" height="18" fill="#f4f5f8"/><rect x="1093.7" y="378.4" width="18" height="3.2" fill="#ea4b5f"/><rect x="1093.7" y="384.8" width="18" height="3.2" fill="#ea4b5f"/><rect x="1093.7" y="391.2" width="18" height="3.2" fill="#ea4b5f"/><rect x="1093.7" y="377.4" width="10.8" height="10.8" fill="#4285e6"/><rect x="1095.7" y="380.0" width="1.1" height="1.1" fill="#fff" transform="translate(0.00,0.00)"/><rect x="1095.7" y="380.0" width="1.1" height="1.1" fill="#fff" transform="translate(0.00,2.90)"/><rect x="1095.7" y="380.0" width="1.1" height="1.1" fill="#fff" transform="translate(0.00,5.80)"/><rect x="1095.7" y="380.0" width="1.1" height="1.1" fill="#fff" transform="translate(3.05,0.00)"/><rect x="1095.7" y="380.0" width="1.1" height="1.1" fill="#fff" transform="translate(3.05,2.90)"/><rect x="1095.7" y="380.0" width="1.1" height="1.1" fill="#fff" transform="translate(3.05,5.80)"/><rect x="1095.7" y="380.0" width="1.1" height="1.1" fill="#fff" transform="translate(6.10,0.00)"/><rect x="1095.7" y="380.0" width="1.1" height="1.1" fill="#fff" transform="translate(6.10,2.90)"/><rect x="1095.7" y="380.0" width="1.1" height="1.1" fill="#fff" transform="translate(6.10,5.80)"/></g>
<path d="M1090.4,397.5 L1092.8,399.59999999999997 L1097.2,399.59999999999997 L1099.6,397.5 Z" fill="#f7a32b"/><circle cx="1095" cy="386.4" r="11.1" fill="none" stroke="#f7a32b" stroke-width="1.3"/><clipPath id="u10950"><circle cx="1095" cy="386.4" r="8.1"/></clipPath><g clip-path="url(#u10950)"><rect x="1086" y="377.4" width="18" height="18" fill="#f4f5f8"/><rect x="1086" y="378.4" width="18" height="3.2" fill="#ea4b5f"/><rect x="1086" y="384.8" width="18" height="3.2" fill="#ea4b5f"/><rect x="1086" y="391.2" width="18" height="3.2" fill="#ea4b5f"/><rect x="1086" y="377.4" width="10.8" height="10.8" fill="#4285e6"/><rect x="1088.0" y="380.0" width="1.1" height="1.1" fill="#fff" transform="translate(0.00,0.00)"/><rect x="1088.0" y="380.0" width="1.1" height="1.1" fill="#fff" transform="translate(0.00,2.90)"/><rect x="1088.0" y="380.0" width="1.1" height="1.1" fill="#fff" transform="translate(0.00,5.80)"/><rect x="1088.0" y="380.0" width="1.1" height="1.1" fill="#fff" transform="translate(3.05,0.00)"/><rect x="1088.0" y="380.0" width="1.1" height="1.1" fill="#fff" transform="translate(3.05,2.90)"/><rect x="1088.0" y="380.0" width="1.1" height="1.1" fill="#fff" transform="translate(3.05,5.80)"/><rect x="1088.0" y="380.0" width="1.1" height="1.1" fill="#fff" transform="translate(6.10,0.00)"/><rect x="1088.0" y="380.0" width="1.1" height="1.1" fill="#fff" transform="translate(6.10,2.90)"/><rect x="1088.0" y="380.0" width="1.1" height="1.1" fill="#fff" transform="translate(6.10,5.80)"/></g>
<circle cx="1104" cy="379.2" r="6.7" fill="#fff"/><text x="1104" y="382.9" text-anchor="middle" font-family='Liberation Sans' font-size="10" fill="#2a2e39">4</text>
<path d="M1133.4,397.5 L1135.8,399.59999999999997 L1140.2,399.59999999999997 L1142.6,397.5 Z" fill="#f7a32b"/><circle cx="1138" cy="386.4" r="11.1" fill="none" stroke="#f7a32b" stroke-width="1.3"/><circle cx="1138" cy="386.4" r="8" fill="#f4f5f8"/><circle cx="1138" cy="386.4" r="3.7" fill="#ea4b5f"/>
<path d="M1121.8000000000002,397.5 L1124.2,399.59999999999997 L1128.6000000000001,399.59999999999997 L1131.0,397.5 Z" fill="#f9c74f"/><circle cx="1126.4" cy="386.4" r="11.1" fill="none" stroke="#f9c74f" stroke-width="1.3"/><clipPath id="u11264"><circle cx="1126.4" cy="386.4" r="8.1"/></clipPath><g clip-path="url(#u11264)"><rect x="1117.4" y="377.4" width="18" height="18" fill="#f4f5f8"/><rect x="1117.4" y="378.4" width="18" height="3.2" fill="#ea4b5f"/><rect x="1117.4" y="384.8" width="18" height="3.2" fill="#ea4b5f"/><rect x="1117.4" y="391.2" width="18" height="3.2" fill="#ea4b5f"/><rect x="1117.4" y="377.4" width="10.8" height="10.8" fill="#4285e6"/><rect x="1119.4" y="380.0" width="1.1" height="1.1" fill="#fff" transform="translate(0.00,0.00)"/><rect x="1119.4" y="380.0" width="1.1" height="1.1" fill="#fff" transform="translate(0.00,2.90)"/><rect x="1119.4" y="380.0" width="1.1" height="1.1" fill="#fff" transform="translate(0.00,5.80)"/><rect x="1119.4" y="380.0" width="1.1" height="1.1" fill="#fff" transform="translate(3.05,0.00)"/><rect x="1119.4" y="380.0" width="1.1" height="1.1" fill="#fff" transform="translate(3.05,2.90)"/><rect x="1119.4" y="380.0" width="1.1" height="1.1" fill="#fff" transform="translate(3.05,5.80)"/><rect x="1119.4" y="380.0" width="1.1" height="1.1" fill="#fff" transform="translate(6.10,0.00)"/><rect x="1119.4" y="380.0" width="1.1" height="1.1" fill="#fff" transform="translate(6.10,2.90)"/><rect x="1119.4" y="380.0" width="1.1" height="1.1" fill="#fff" transform="translate(6.10,5.80)"/></g>
<circle cx="1134.9" cy="379.2" r="6.7" fill="#fff"/><text x="1134.9" y="382.9" text-anchor="middle" font-family='Liberation Sans' font-size="10" fill="#2a2e39">8</text>
<path d="M1155.6000000000001,397.5 L1158.0,399.59999999999997 L1162.4,399.59999999999997 L1164.8,397.5 Z" fill="#f7a32b"/><circle cx="1160.2" cy="386.4" r="11.1" fill="none" stroke="#f7a32b" stroke-width="1.3"/><circle cx="1160.2" cy="386.4" r="8" fill="#f4f5f8"/><circle cx="1160.2" cy="386.4" r="3.7" fill="#ea4b5f"/>
<circle cx="1169.2" cy="379.2" r="6.7" fill="#fff"/><text x="1169.2" y="382.9" text-anchor="middle" font-family='Liberation Sans' font-size="10" fill="#2a2e39">2</text>
<path d="M1204.4,397.5 L1206.8,399.59999999999997 L1211.2,399.59999999999997 L1213.6,397.5 Z" fill="#f7a32b"/><circle cx="1209" cy="386.4" r="11.1" fill="none" stroke="#f7a32b" stroke-width="1.3"/><clipPath id="u12090"><circle cx="1209" cy="386.4" r="8.1"/></clipPath><g clip-path="url(#u12090)"><rect x="1200" y="377.4" width="18" height="18" fill="#f4f5f8"/><rect x="1200" y="378.4" width="18" height="3.2" fill="#ea4b5f"/><rect x="1200" y="384.8" width="18" height="3.2" fill="#ea4b5f"/><rect x="1200" y="391.2" width="18" height="3.2" fill="#ea4b5f"/><rect x="1200" y="377.4" width="10.8" height="10.8" fill="#4285e6"/><rect x="1202.0" y="380.0" width="1.1" height="1.1" fill="#fff" transform="translate(0.00,0.00)"/><rect x="1202.0" y="380.0" width="1.1" height="1.1" fill="#fff" transform="translate(0.00,2.90)"/><rect x="1202.0" y="380.0" width="1.1" height="1.1" fill="#fff" transform="translate(0.00,5.80)"/><rect x="1202.0" y="380.0" width="1.1" height="1.1" fill="#fff" transform="translate(3.05,0.00)"/><rect x="1202.0" y="380.0" width="1.1" height="1.1" fill="#fff" transform="translate(3.05,2.90)"/><rect x="1202.0" y="380.0" width="1.1" height="1.1" fill="#fff" transform="translate(3.05,5.80)"/><rect x="1202.0" y="380.0" width="1.1" height="1.1" fill="#fff" transform="translate(6.10,0.00)"/><rect x="1202.0" y="380.0" width="1.1" height="1.1" fill="#fff" transform="translate(6.10,2.90)"/><rect x="1202.0" y="380.0" width="1.1" height="1.1" fill="#fff" transform="translate(6.10,5.80)"/></g>
<path d="M1192.4,397.5 L1194.8,399.59999999999997 L1199.2,399.59999999999997 L1201.6,397.5 Z" fill="#f7a32b"/><circle cx="1197" cy="386.4" r="11.1" fill="none" stroke="#f7a32b" stroke-width="1.3"/><clipPath id="u11970"><circle cx="1197" cy="386.4" r="8.1"/></clipPath><g clip-path="url(#u11970)"><rect x="1188" y="377.4" width="18" height="18" fill="#f4f5f8"/><rect x="1188" y="378.4" width="18" height="3.2" fill="#ea4b5f"/><rect x="1188" y="384.8" width="18" height="3.2" fill="#ea4b5f"/><rect x="1188" y="391.2" width="18" height="3.2" fill="#ea4b5f"/><rect x="1188" y="377.4" width="10.8" height="10.8" fill="#4285e6"/><rect x="1190.0" y="380.0" width="1.1" height="1.1" fill="#fff" transform="translate(0.00,0.00)"/><rect x="1190.0" y="380.0" width="1.1" height="1.1" fill="#fff" transform="translate(0.00,2.90)"/><rect x="1190.0" y="380.0" width="1.1" height="1.1" fill="#fff" transform="translate(0.00,5.80)"/><rect x="1190.0" y="380.0" width="1.1" height="1.1" fill="#fff" transform="translate(3.05,0.00)"/><rect x="1190.0" y="380.0" width="1.1" height="1.1" fill="#fff" transform="translate(3.05,2.90)"/><rect x="1190.0" y="380.0" width="1.1" height="1.1" fill="#fff" transform="translate(3.05,5.80)"/><rect x="1190.0" y="380.0" width="1.1" height="1.1" fill="#fff" transform="translate(6.10,0.00)"/><rect x="1190.0" y="380.0" width="1.1" height="1.1" fill="#fff" transform="translate(6.10,2.90)"/><rect x="1190.0" y="380.0" width="1.1" height="1.1" fill="#fff" transform="translate(6.10,5.80)"/></g>
<path d="M1179.1000000000001,397.5 L1181.5,399.59999999999997 L1185.9,399.59999999999997 L1188.3,397.5 Z" fill="#f9c74f"/><circle cx="1183.7" cy="386.4" r="11.1" fill="none" stroke="#f9c74f" stroke-width="1.3"/><clipPath id="u11837"><circle cx="1183.7" cy="386.4" r="8.1"/></clipPath><g clip-path="url(#u11837)"><rect x="1174.7" y="377.4" width="18" height="18" fill="#f4f5f8"/><rect x="1174.7" y="378.4" width="18" height="3.2" fill="#ea4b5f"/><rect x="1174.7" y="384.8" width="18" height="3.2" fill="#ea4b5f"/><rect x="1174.7" y="391.2" width="18" height="3.2" fill="#ea4b5f"/><rect x="1174.7" y="377.4" width="10.8" height="10.8" fill="#4285e6"/><rect x="1176.7" y="380.0" width="1.1" height="1.1" fill="#fff" transform="translate(0.00,0.00)"/><rect x="1176.7" y="380.0" width="1.1" height="1.1" fill="#fff" transform="translate(0.00,2.90)"/><rect x="1176.7" y="380.0" width="1.1" height="1.1" fill="#fff" transform="translate(0.00,5.80)"/><rect x="1176.7" y="380.0" width="1.1" height="1.1" fill="#fff" transform="translate(3.05,0.00)"/><rect x="1176.7" y="380.0" width="1.1" height="1.1" fill="#fff" transform="translate(3.05,2.90)"/><rect x="1176.7" y="380.0" width="1.1" height="1.1" fill="#fff" transform="translate(3.05,5.80)"/><rect x="1176.7" y="380.0" width="1.1" height="1.1" fill="#fff" transform="translate(6.10,0.00)"/><rect x="1176.7" y="380.0" width="1.1" height="1.1" fill="#fff" transform="translate(6.10,2.90)"/><rect x="1176.7" y="380.0" width="1.1" height="1.1" fill="#fff" transform="translate(6.10,5.80)"/></g>
<circle cx="1192.5" cy="379.2" r="6.7" fill="#fff"/><text x="1192.5" y="382.9" text-anchor="middle" font-family='Liberation Sans' font-size="10" fill="#2a2e39">5</text>
<rect x="1197.8" y="372.8" width="20" height="12.8" rx="6.4" fill="#fff"/><text x="1204.5" y="382.9" text-anchor="middle" font-family='Liberation Sans' font-size="10" fill="#2a2e39">14</text>
</g>
<text x="15.5" y="46.5" font-family='Liberation Sans' font-weight="bold" font-size="12.6" fill="#131722" textLength="270.5" lengthAdjust="spacingAndGlyphs">Dólar estadounidense/Yen japonés, 1h, FXCM</text>
<text x="15.5" y="63.7" font-family='Liberation Sans' font-size="12.4" fill="#131722" textLength="107" lengthAdjust="spacingAndGlyphs">EMA (200, close, 0)</text>
<g clip-path="url(#cs)">
<rect x="6" y="438" width="1201" height="1" fill="#a0a3ac"/>
<rect x="6" y="517" width="1201" height="1" fill="#a0a3ac"/>
<polyline points="7.4,498.3 11.1,478.7 15.2,466.4 19.7,456.6 23.3,454.9 27.5,451.2 31.9,466.4 36.1,483.6 38.8,505.7 42.3,525.9 46.7,533.7 50.4,531.0 54.0,527.1 58.2,520.5 62.1,519.5 65.8,513.6 69.5,520.5 73.7,521.7 77.6,520.0 81.1,493.4 84.7,475.0 88.9,455.4 92.6,448.0 97.0,435.7 100.7,431.3 104.4,432.0 108.1,438.2 112.5,445.5 116.2,448.0 119.9,445.5 123.6,445.5 127.2,454.1 131.4,466.4 135.1,488.5 138.8,503.3 143.0,515.1 146.9,509.4 151.1,492.7 154.8,491.5 158.4,491.5 162.1,511.9 165.8,511.1 170.0,508.2 173.2,478.7 176.9,449.2 181.3,420.2 185.5,417.8 189.2,421.7 192.8,429.6 196.5,435.7 200.2,440.6 204.4,441.8 208.3,440.1 212.0,432.0 215.7,424.7 219.9,417.3 223.5,423.4 227.2,428.3 230.9,443.8 235.1,447.3 240.0,450.4 242.9,462.7 246.9,466.9 250.8,481.2 254.7,474.5 258.9,469.4 262.6,451.7 266.5,438.2 270.2,434.5 273.9,429.6 278.1,421.5 281.8,421.5 285.9,420.2 289.6,429.6 293.6,434.5 297.0,443.8 300.9,446.3 305.1,450.0 308.8,446.8 313.0,436.9 316.6,432.0 320.3,430.8 324.3,436.9 327.9,464.0 331.6,495.9 335.6,519.2 339.5,505.7 343.2,478.7 347.1,450.4 351.0,442.3 354.7,443.6 358.6,450.4 362.3,443.8 366.3,442.3 370.2,443.6 374.1,453.4 377.6,454.1 381.2,459.0 385.4,461.5 389.4,470.1 393.5,477.5 397.2,478.0 401.1,459.0 405.1,446.8 409.0,445.5 412.7,466.4 416.4,495.9 420.6,519.2 424.5,534.0 428.2,519.2 432.1,492.2 435.8,464.0 439.5,454.1 443.4,447.3 447.6,441.4 451.3,429.6 455.4,424.7 459.4,428.3 463.1,435.0 467.0,440.1 470.9,440.1 474.6,441.4 478.3,445.5 480.0,443.1 482.5,435.7 486.1,445.5 489.8,448.7 493.5,488.5 497.7,503.3 501.4,526.6 505.1,527.1 509.0,538.1 513.2,536.4 516.8,527.8 520.5,520.0 524.2,514.8 528.1,519.2 532.1,520.9 536.0,516.8 539.7,498.3 543.4,471.3 547.1,436.4 551.2,440.1 555.2,441.4 559.1,454.1 563.0,454.1 567.0,465.2 570.6,475.7 574.6,478.7 578.3,470.6 582.2,471.3 586.1,488.5 590.1,501.5 594.2,494.7 597.9,483.6 601.6,471.3 605.3,456.6 609.2,435.0 613.1,439.4 617.1,442.3 621.0,452.2 624.9,450.0 628.6,456.6 632.3,450.0 636.2,453.6 640.2,448.5 644.1,445.5 648.0,438.2 652.0,442.3 655.9,447.3 659.8,452.4 663.5,467.6 667.4,477.5 671.4,474.3 675.0,454.1 679.0,434.5 682.9,437.7 686.8,456.6 690.8,491.0 694.5,514.3 698.4,529.1 702.3,523.4 706.0,498.3 709.7,478.7 713.4,465.2 717.1,454.1 720.0,449.7 722.0,448.0 725.4,450.4 729.3,450.0 732.8,472.6 736.7,476.2 740.6,492.2 744.3,489.0 748.2,500.8 752.2,506.9 756.1,519.2 760.0,527.8 764.2,536.4 767.9,531.5 771.6,522.4 775.3,510.1 779.2,508.7 783.4,513.1 787.1,520.5 791.0,508.2 794.7,495.9 798.6,464.0 802.3,441.8 806.0,435.2 810.2,436.4 813.8,465.2 817.8,459.0 821.5,455.4 825.4,434.0 829.1,454.1 833.0,475.0 836.9,483.6 840.9,482.9 844.5,487.3 848.5,502.0 852.7,507.7 856.3,503.3 860.0,497.1 864.0,492.9 867.9,489.7 871.6,478.7 875.3,462.7 879.2,466.4 883.1,486.1 887.0,507.7 891.0,512.3 894.7,505.7 898.6,502.0 902.5,501.3 906.4,503.3 910.4,499.6 914.6,494.7 918.2,482.4 922.2,473.3 925.9,467.1 929.5,465.9 933.2,459.5 937.2,442.3 940.6,435.0 942.3,434.0" fill="none" stroke="#673ab7" stroke-width="3" stroke-linejoin="miter" stroke-miterlimit="5"/>
<line x1="864" y1="456.5" x2="936.6" y2="419.2" stroke="#ff0000" stroke-width="2"/>
</g>
<text x="15.2" y="424.2" font-family='Liberation Sans' font-size="12.4" fill="#131722" textLength="83.5" lengthAdjust="spacingAndGlyphs">Stoch (14, 1, 3)</text>
<rect x="6" y="402" width="1262" height="1" fill="#e0e3eb"/>
<rect x="6" y="551" width="1262" height="1" fill="#e0e3eb"/>
<rect x="1207" y="24" width="1" height="558" fill="#e0e3eb"/>
<g clip-path="url(#cax)">
<rect x="1207" y="28.7" width="4.5" height="1" fill="#e0e3eb"/>
<text x="1216.1" y="33.7" font-family='Liberation Sans' font-size="12.6" fill="#131722" textLength="41.6" lengthAdjust="spacingAndGlyphs">106.000</text>
<rect x="1207" y="62.9" width="4.5" height="1" fill="#e0e3eb"/>
<text x="1216.1" y="67.9" font-family='Liberation Sans' font-size="12.6" fill="#131722" textLength="41.6" lengthAdjust="spacingAndGlyphs">105.800</text>
<rect x="1207" y="97.1" width="4.5" height="1" fill="#e0e3eb"/>
<text x="1216.1" y="102.1" font-family='Liberation Sans' font-size="12.6" fill="#131722" textLength="41.6" lengthAdjust="spacingAndGlyphs">105.600</text>
<rect x="1207" y="131.3" width="4.5" height="1" fill="#e0e3eb"/>
<text x="1216.1" y="136.3" font-family='Liberation Sans' font-size="12.6" fill="#131722" textLength="41.6" lengthAdjust="spacingAndGlyphs">105.400</text>
<rect x="1207" y="165.5" width="4.5" height="1" fill="#e0e3eb"/>
<text x="1216.1" y="170.5" font-family='Liberation Sans' font-size="12.6" fill="#131722" textLength="41.6" lengthAdjust="spacingAndGlyphs">105.200</text>
<rect x="1207" y="199.7" width="4.5" height="1" fill="#e0e3eb"/>
<text x="1216.1" y="204.7" font-family='Liberation Sans' font-size="12.6" fill="#131722" textLength="41.6" lengthAdjust="spacingAndGlyphs">105.000</text>
<rect x="1207" y="233.9" width="4.5" height="1" fill="#e0e3eb"/>
<text x="1216.1" y="238.9" font-family='Liberation Sans' font-size="12.6" fill="#131722" textLength="41.6" lengthAdjust="spacingAndGlyphs">104.800</text>
<rect x="1207" y="268.1" width="4.5" height="1" fill="#e0e3eb"/>
<text x="1216.1" y="273.1" font-family='Liberation Sans' font-size="12.6" fill="#131722" textLength="41.6" lengthAdjust="spacingAndGlyphs">104.600</text>
<rect x="1207" y="302.3" width="4.5" height="1" fill="#e0e3eb"/>
<text x="1216.1" y="307.3" font-family='Liberation Sans' font-size="12.6" fill="#131722" textLength="41.6" lengthAdjust="spacingAndGlyphs">104.400</text>
<rect x="1207" y="336.5" width="4.5" height="1" fill="#e0e3eb"/>
<text x="1216.1" y="341.5" font-family='Liberation Sans' font-size="12.6" fill="#131722" textLength="41.6" lengthAdjust="spacingAndGlyphs">104.200</text>
<rect x="1207" y="370.7" width="4.5" height="1" fill="#e0e3eb"/>
<text x="1216.1" y="375.7" font-family='Liberation Sans' font-size="12.6" fill="#131722" textLength="41.6" lengthAdjust="spacingAndGlyphs">104.000</text>
<rect x="1221" y="30.6" width="31.5" height="17" rx="3" fill="#d1d4dc"/>
<rect x="1252" y="24" width="8" height="10" fill="#d1d4dc" opacity="0"/>
<text x="1237.2" y="44.4" text-anchor="middle" font-family='Liberation Sans' font-size="12.6" fill="#131722" textLength="19.3" lengthAdjust="spacingAndGlyphs">JPY</text>
<rect x="1207" y="412.2" width="4.5" height="1" fill="#e0e3eb"/>
<text x="1216.1" y="417.2" font-family='Liberation Sans' font-size="12.6" fill="#131722" textLength="35.3" lengthAdjust="spacingAndGlyphs">100.00</text>
<rect x="1207" y="445.1" width="4.5" height="1" fill="#e0e3eb"/>
<text x="1216.1" y="450.1" font-family='Liberation Sans' font-size="12.6" fill="#131722" textLength="29.3" lengthAdjust="spacingAndGlyphs">75.00</text>
<rect x="1207" y="478.0" width="4.5" height="1" fill="#e0e3eb"/>
<text x="1216.1" y="483.0" font-family='Liberation Sans' font-size="12.6" fill="#131722" textLength="29.3" lengthAdjust="spacingAndGlyphs">50.00</text>
<rect x="1207" y="510.9" width="4.5" height="1" fill="#e0e3eb"/>
<text x="1216.1" y="515.9" font-family='Liberation Sans' font-size="12.6" fill="#131722" textLength="29.3" lengthAdjust="spacingAndGlyphs">25.00</text>
<rect x="1207" y="543.8" width="4.5" height="1" fill="#e0e3eb"/>
<text x="1216.1" y="548.8" font-family='Liberation Sans' font-size="12.6" fill="#131722" textLength="23.2" lengthAdjust="spacingAndGlyphs">0.00</text>
<rect x="1207" y="137" width="60" height="19" fill="#000"/>
<rect x="1207" y="146" width="4.5" height="1" fill="#fff"/>
<text x="1216.5" y="150.9" font-family='Liberation Sans' font-weight="bold" font-size="12" fill="#fff" textLength="41.8" lengthAdjust="spacingAndGlyphs">105.314</text>
<rect x="1207" y="241" width="60" height="20" fill="#2196f3"/>
<rect x="1207" y="250.5" width="4.5" height="1" fill="#fff"/>
<text x="1216.5" y="255.4" font-family='Liberation Sans' font-weight="bold" font-size="12" fill="#fff" textLength="41.8" lengthAdjust="spacingAndGlyphs">104.700</text>
</g>
<rect x="46.0" y="552" width="1" height="4" fill="#e0e3eb"/>
<text x="40.6" y="570.9" font-family='Liberation Sans' font-size="12.5" fill="#131722" textLength="11.8" lengthAdjust="spacingAndGlyphs">21</text>
<rect x="138.5" y="552" width="1" height="4" fill="#e0e3eb"/>
<text x="133.1" y="570.9" font-family='Liberation Sans' font-size="12.5" fill="#131722" textLength="11.8" lengthAdjust="spacingAndGlyphs">22</text>
<rect x="231.0" y="552" width="1" height="4" fill="#e0e3eb"/>
<text x="225.6" y="570.9" font-family='Liberation Sans' font-size="12.5" fill="#131722" textLength="11.8" lengthAdjust="spacingAndGlyphs">23</text>
<rect x="323.5" y="552" width="1" height="4" fill="#e0e3eb"/>
<text x="318.1" y="570.9" font-family='Liberation Sans' font-size="12.5" fill="#131722" textLength="11.8" lengthAdjust="spacingAndGlyphs">24</text>
<rect x="416.0" y="552" width="1" height="4" fill="#e0e3eb"/>
<text x="410.6" y="570.9" font-family='Liberation Sans' font-size="12.5" fill="#131722" textLength="11.8" lengthAdjust="spacingAndGlyphs">25</text>
<rect x="508.5" y="552" width="1" height="4" fill="#e0e3eb"/>
<text x="503.1" y="570.9" font-family='Liberation Sans' font-size="12.5" fill="#131722" textLength="11.8" lengthAdjust="spacingAndGlyphs">28</text>
<rect x="601.0" y="552" width="1" height="4" fill="#e0e3eb"/>
<text x="595.6" y="570.9" font-family='Liberation Sans' font-size="12.5" fill="#131722" textLength="11.8" lengthAdjust="spacingAndGlyphs">29</text>
<rect x="693.5" y="552" width="1" height="4" fill="#e0e3eb"/>
<text x="688.1" y="570.9" font-family='Liberation Sans' font-size="12.5" fill="#131722" textLength="11.8" lengthAdjust="spacingAndGlyphs">30</text>
<rect x="786.0" y="552" width="1" height="4" fill="#e0e3eb"/>
<text x="777.3" y="570.9" font-family='Liberation Sans' font-size="12.5" fill="#131722" textLength="18.4" lengthAdjust="spacingAndGlyphs">Oct</text>
<rect x="878.5" y="552" width="1" height="4" fill="#e0e3eb"/>
<text x="876.0" y="570.9" font-family='Liberation Sans' font-size="12.5" fill="#131722" textLength="5.9" lengthAdjust="spacingAndGlyphs">2</text>
<rect x="971.0" y="552" width="1" height="4" fill="#e0e3eb"/>
<text x="968.5" y="570.9" font-family='Liberation Sans' font-size="12.5" fill="#131722" textLength="5.9" lengthAdjust="spacingAndGlyphs">5</text>
<rect x="1063.5" y="552" width="1" height="4" fill="#e0e3eb"/>
<text x="1061.0" y="570.9" font-family='Liberation Sans' font-size="12.5" fill="#131722" textLength="5.9" lengthAdjust="spacingAndGlyphs">6</text>
<rect x="1156.0" y="552" width="1" height="4" fill="#e0e3eb"/>
<text x="1153.5" y="570.9" font-family='Liberation Sans' font-size="12.5" fill="#131722" textLength="5.9" lengthAdjust="spacingAndGlyphs">7</text>
<text x="6.7" y="13.9" font-family='Liberation Sans' font-weight="bold" font-size="12.4" fill="#131722" textLength="82.7" lengthAdjust="spacingAndGlyphs">FX:USDJPY, 60</text>
<text x="95.9" y="13.9" font-family='Liberation Sans' font-size="12.4" fill="#131722" textLength="44.9" lengthAdjust="spacingAndGlyphs">105.314</text>
<path d="M144.3,5.6 L154,5.6 L149.2,15.2 Z" fill="#ef4a45"/>
<text x="158" y="13.9" font-family='Liberation Sans' font-size="12.4" fill="#131722" textLength="92" lengthAdjust="spacingAndGlyphs">−0.187 (−0.18%)</text>
<text x="254.3" y="13.9" font-family='Liberation Sans' font-weight="bold" font-size="12.4" fill="#131722" textLength="12.1" lengthAdjust="spacingAndGlyphs">O:</text>
<text x="269.2" y="13.9" font-family='Liberation Sans' font-size="12.4" fill="#ef5350" textLength="44" lengthAdjust="spacingAndGlyphs">105.384</text>
<text x="318.7" y="13.9" font-family='Liberation Sans' font-weight="bold" font-size="12.4" fill="#131722" textLength="11.4" lengthAdjust="spacingAndGlyphs">H:</text>
<text x="333" y="13.9" font-family='Liberation Sans' font-size="12.4" fill="#ef5350" textLength="44.4" lengthAdjust="spacingAndGlyphs">105.394</text>
<text x="382.9" y="13.9" font-family='Liberation Sans' font-weight="bold" font-size="12.4" fill="#131722" textLength="8.3" lengthAdjust="spacingAndGlyphs">L:</text>
<text x="393.8" y="13.9" font-family='Liberation Sans' font-size="12.4" fill="#ef5350" textLength="44" lengthAdjust="spacingAndGlyphs">105.314</text>
<text x="443.3" y="13.9" font-family='Liberation Sans' font-weight="bold" font-size="12.4" fill="#131722" textLength="9.9" lengthAdjust="spacingAndGlyphs">C:</text>
<text x="456" y="13.9" font-family='Liberation Sans' font-size="12.4" fill="#ef5350" textLength="44.4" lengthAdjust="spacingAndGlyphs">105.314</text>
</svg>
</body></html>
